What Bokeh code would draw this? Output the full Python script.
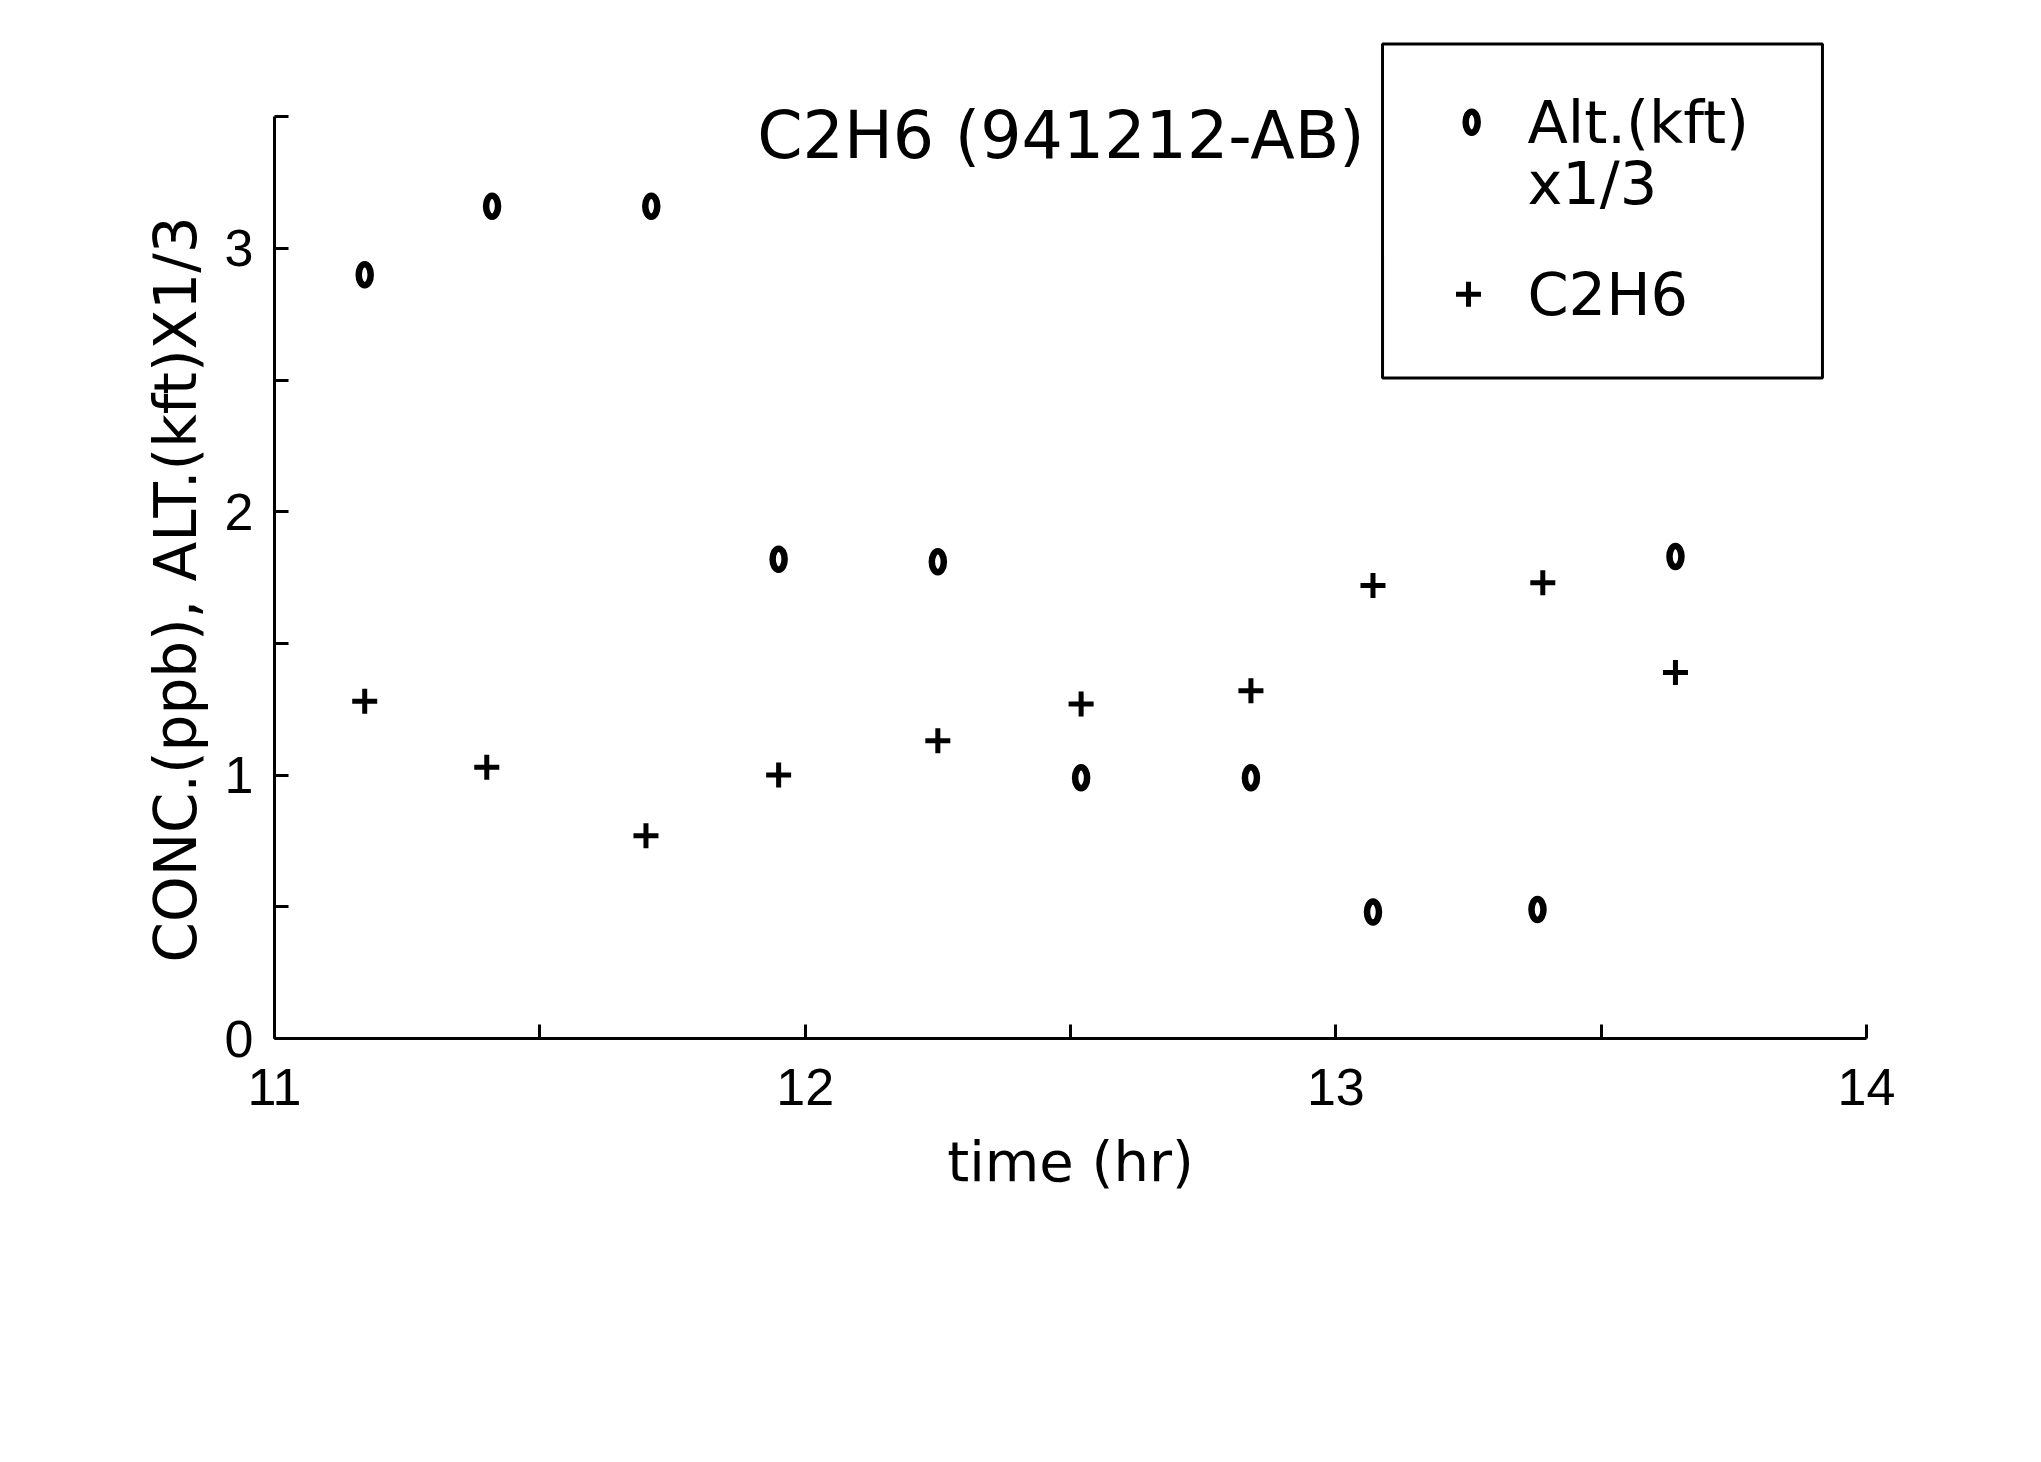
from bokeh.plotting import figure
from bokeh.models import Range1d, FixedTicker, BoxAnnotation, Title
from bokeh.embed import file_html
from bokeh.resources import INLINE
from bokeh.core.properties import value

# ---- data ----
time_alt = [11.17, 11.41, 11.71, 11.95, 12.25, 12.52, 12.84, 13.07, 13.38, 13.64]
alt_kft_third = [2.90, 3.16, 3.16, 1.82, 1.81, 0.99, 0.99, 0.48, 0.49, 1.83]
time_c2h6 = [11.17, 11.40, 11.70, 11.95, 12.25, 12.52, 12.84, 13.07, 13.39, 13.64]
c2h6_ppb = [1.28, 1.03, 0.77, 1.00, 1.13, 1.27, 1.32, 1.72, 1.73, 1.39]

x_ticks = [11, 12, 13, 14]
x_minor_ticks = [11.5, 12.5, 13.5]
y_ticks = [0, 1, 2, 3]
y_minor_ticks = [0.5, 1.5, 2.5, 3.5]

title_text = "C2H6 (941212-AB)"
legend_alt_lines = ["Alt.(kft)", "x1/3"]
legend_c2h6 = "C2H6"
x_label = "time (hr)"
y_label = "CONC.(ppb), ALT.(kft)X1/3"

TICK_FONT = "Liberation Sans"
FONT = "DejaVu Sans"

p = figure(frame_width=1592, frame_height=1008,
           x_range=Range1d(11, 14), y_range=Range1d(0, 3.827),
           output_backend="svg", toolbar_location=None,
           min_border_left=274, min_border_top=30,
           min_border_right=140, min_border_bottom=200)
p.grid.visible = False
p.outline_line_color = None
p.background_fill_color = "white"
p.border_fill_color = "white"

for ax, ticks, minor, bounds in (
        (p.xaxis[0], x_ticks, x_minor_ticks, (11, 14)),
        (p.yaxis[0], y_ticks, y_minor_ticks, (0, 3.5))):
    ax.ticker = FixedTicker(ticks=ticks, minor_ticks=minor)
    ax.bounds = bounds
    ax.axis_line_width = 3
    ax.axis_line_color = "black"
    ax.major_tick_in = 14
    ax.major_tick_out = 0
    ax.minor_tick_in = 14
    ax.minor_tick_out = 0
    ax.major_tick_line_width = 3
    ax.minor_tick_line_width = 3
    ax.major_tick_line_color = "black"
    ax.minor_tick_line_color = "black"
    ax.major_label_text_font = TICK_FONT
    ax.major_label_text_font_size = "52px"
    ax.major_label_text_color = "black"

p.xaxis[0].major_label_standoff = 30
p.xaxis[0].axis_label = x_label
p.xaxis[0].axis_label_text_font = FONT
p.xaxis[0].axis_label_text_font_style = "normal"
p.xaxis[0].axis_label_text_color = "black"
p.xaxis[0].axis_label_text_font_size = "56px"
p.xaxis[0].axis_label_standoff = 21
p.yaxis[0].major_label_standoff = 21

# y-axis title, placed along the drawn axis (0..3.5)
p.add_layout(Title(text=y_label, align="left", offset=76, standoff=23,
                   text_font=FONT, text_font_size="58px",
                   text_font_style="normal", text_color="black"), "left")

# data marks
p.ellipse(x=time_alt, y=alt_kft_third, width=12, height=21,
          width_units="screen", height_units="screen",
          fill_color=None, line_color="black", line_width=6.5)
p.scatter(x=time_c2h6, y=c2h6_ppb, marker="cross", size=25,
          line_color="black", line_width=5)

# title inside the plot
p.text(x=[12.482], y=[3.43], text=[title_text], text_font=value(FONT),
       text_font_size="65px", text_align="center", text_baseline="middle",
       text_color="black")

# hand-drawn legend box
p.add_layout(BoxAnnotation(left=13.088, right=13.917, top=3.776, bottom=2.508,
                           fill_alpha=0, line_color="black", line_alpha=1.0,
                           line_width=3))
p.ellipse(x=[13.256], y=[3.479], width=12, height=21,
          width_units="screen", height_units="screen",
          fill_color=None, line_color="black", line_width=6.5)
p.scatter(x=[13.25], y=[2.826], marker="cross", size=25,
          line_color="black", line_width=5)
p.text(x=[13.361, 13.361, 13.361], y=[3.479, 3.248, 2.826],
       text=[legend_alt_lines[0], legend_alt_lines[1], legend_c2h6],
       text_font=value(FONT), text_font_size="59px", text_align="left",
       text_baseline="middle", text_color="black")

open("out.html", "w").write(file_html(p, INLINE))
